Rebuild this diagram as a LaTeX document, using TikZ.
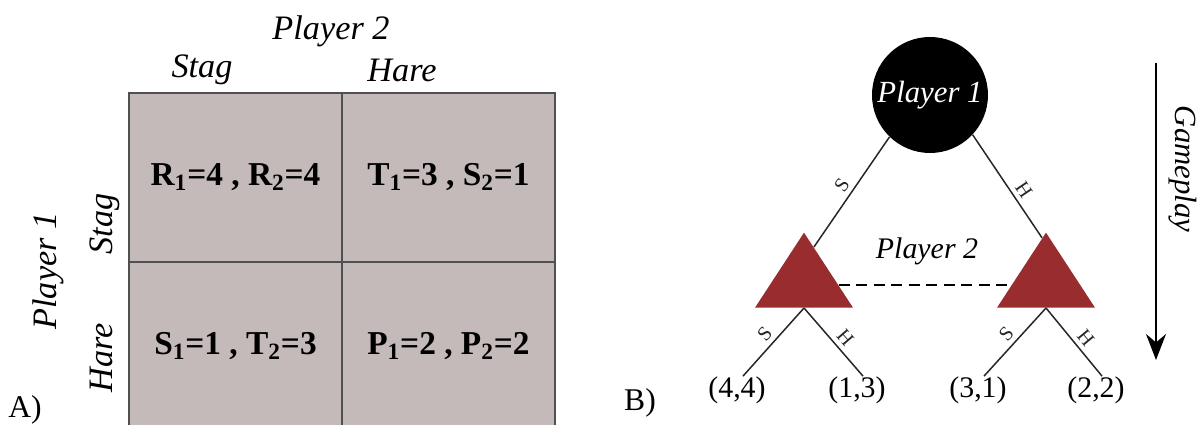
\documentclass[tikz,border=0pt]{standalone}
\usepackage{fontspec}
\setmainfont{Liberation Serif}
\usepackage{tikz}
\usetikzlibrary{shapes.geometric,arrows.meta,positioning,calc}
\definecolor{cellgray}{RGB}{197,186,186}
\definecolor{framegray}{RGB}{80,80,80}
\definecolor{darkred}{RGB}{152,44,46}
\tikzset{
  cell/.style={rectangle,draw=framegray,fill=cellgray,line width=1.1pt,minimum width=4.26cm,
    minimum height=3.38cm,inner sep=0pt,outer sep=0pt,font=\fontsize{19}{22}\selectfont\bfseries},
  hdr/.style={inner sep=0pt,font=\fontsize{19.5}{22}\selectfont\itshape},
  tag/.style={inner sep=0pt,font=\fontsize{18}{21}\selectfont},
  chance/.style={circle,fill=black,minimum size=2.32cm,inner sep=0pt,text=white,
    font=\fontsize{17.5}{20}\selectfont\itshape},
  tri/.style={isosceles triangle,isosceles triangle stretches,shape border rotate=90,
    fill=darkred,minimum width=1.96cm,minimum height=1.5cm,inner sep=0pt},
  leaf/.style={inner sep=0pt,font=\fontsize{17}{20}\selectfont},
  edge/.style={line width=0.85pt,color=black!85},
  lbl/.style={inner sep=2.5pt,font=\fontsize{11.5}{13}\selectfont},
  info/.style={dash pattern=on 0.22cm off 0.13cm,line width=1.3pt},
  arr/.style={-{Stealth[length=0.52cm,width=0.4cm]},line width=1pt}
}
\begin{document}
\begin{tikzpicture}[x=0.02cm,y=-0.02cm]
  \useasboundingbox (0,0) rectangle (1198,425);
  % A) normal form
  \node[hdr] (pl2) at (331,31) {Player 2};
  \node[hdr] (h1) at (202,70) {Stag};
  \node[hdr] (h2) at (402,70) {Hare};
  \node[hdr,rotate=90] (pl1) at (48,271) {Player 1};
  \node[hdr,rotate=90] (r1) at (105,224) {Stag};
  \node[hdr,rotate=90] (r2) at (101,358) {Hare};

  \node[cell] (c11) at (235.5,177.5) {R\textsubscript{1}=4 , R\textsubscript{2}=4};
  \node[cell,right=0pt of c11] (c12) {T\textsubscript{1}=3 , S\textsubscript{2}=1};
  \node[cell,below=0pt of c11] (c21) {S\textsubscript{1}=1 , T\textsubscript{2}=3};
  \node[cell,right=0pt of c21] (c22) {P\textsubscript{1}=2 , P\textsubscript{2}=2};
  \node[tag] (ta) at (25,410) {A)};

  % B) extensive form
  \node[chance] (p1) at (930,95) {Player 1};
  \node[tri,anchor=lower side] (t1) at (804,308) {};
  \node[tri,anchor=lower side] (t2) at (1046,308) {};
  \node[leaf] (l1) at (737,390) {(4,4)};
  \node[leaf] (l2) at (857,390) {(1,3)};
  \node[leaf] (l3) at (978,390) {(3,1)};
  \node[leaf] (l4) at (1096,390) {(2,2)};
  \node[leaf] (p2) at (927,251) {\itshape Player 2};
  \node[tag] (tb) at (640,403) {B)};

  \draw[edge] (p1.-134) -- node[lbl,above,sloped] {S} ($(t1.apex)!.2!(t1.right corner)$);
  \draw[edge] (p1.-43) -- node[lbl,above,sloped,pos=.6] {H} ($(t2.apex)!.08!(t2.left corner)$);
  \draw[info] ($(t1.apex)!.7!(t1.right corner)$) -- ($(t2.apex)!.7!(t2.left corner)$);

  \draw[edge] (t1.lower side) -- node[lbl,above,sloped] {S} ([xshift=.12cm]l1.north);
  \draw[edge] (t1.lower side) -- node[lbl,above,sloped,pos=.55] {H} ([xshift=.12cm]l2.north);
  \draw[edge] (t2.lower side) -- node[lbl,above,sloped] {S} ([xshift=.12cm]l3.north);
  \draw[edge] (t2.lower side) -- node[lbl,above,sloped,pos=.55] {H} ([xshift=.12cm]l4.north);

  % time axis
  \coordinate (gtop) at (1156,63);
  \coordinate (gbot) at (1156,360);
  \draw[arr] (gtop) -- (gbot);
  \node[hdr,rotate=-90,font=\fontsize{17.5}{20}\selectfont\itshape] (gp) at (1183,169) {Gameplay};
\end{tikzpicture}
\end{document}
